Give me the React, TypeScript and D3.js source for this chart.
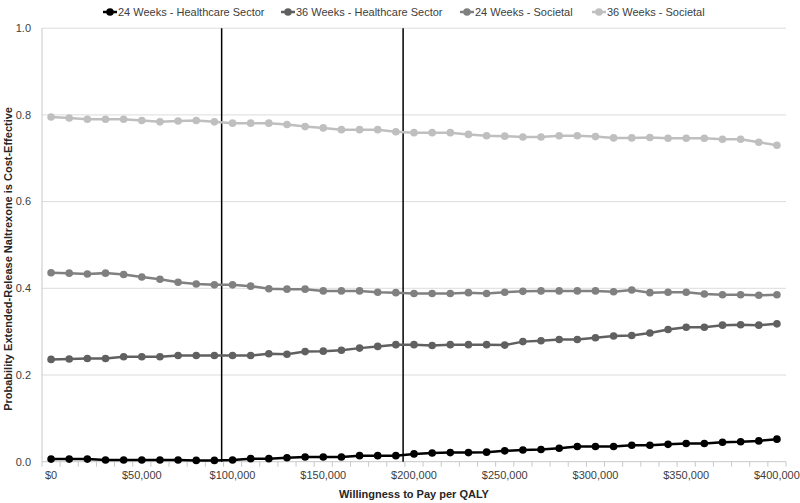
import React, { useEffect, useRef } from "react";
import * as d3 from "d3";

const wtp = [
  0, 10000, 20000, 30000, 40000, 50000, 60000, 70000, 80000, 90000, 100000,
  110000, 120000, 130000, 140000, 150000, 160000, 170000, 180000, 190000, 200000,
  210000, 220000, 230000, 240000, 250000, 260000, 270000, 280000, 290000, 300000,
  310000, 320000, 330000, 340000, 350000, 360000, 370000, 380000, 390000, 400000,
];

const hc24 = [
  0.006, 0.006, 0.006, 0.004, 0.004, 0.004, 0.004, 0.004, 0.003, 0.003, 0.004,
  0.007, 0.007, 0.009, 0.011, 0.011, 0.011, 0.014, 0.014, 0.014, 0.018,
  0.02, 0.021, 0.021, 0.022, 0.025, 0.027, 0.028, 0.031, 0.035, 0.035,
  0.035, 0.038, 0.038, 0.04, 0.042, 0.042, 0.045, 0.046, 0.048, 0.052,
];

const hc36 = [
  0.236, 0.237, 0.238, 0.238, 0.242, 0.242, 0.242, 0.245, 0.245, 0.245, 0.245,
  0.245, 0.249, 0.248, 0.254, 0.255, 0.257, 0.262, 0.266, 0.27, 0.27,
  0.268, 0.27, 0.27, 0.27, 0.269, 0.277, 0.279, 0.282, 0.282, 0.286,
  0.29, 0.291, 0.297, 0.305, 0.31, 0.31, 0.315, 0.316, 0.315, 0.318,
];

const soc24 = [
  0.436, 0.435, 0.433, 0.435, 0.432, 0.426, 0.421, 0.414, 0.41, 0.408, 0.408,
  0.405, 0.399, 0.398, 0.398, 0.394, 0.394, 0.394, 0.391, 0.39, 0.388,
  0.388, 0.388, 0.39, 0.388, 0.391, 0.393, 0.394, 0.394, 0.394, 0.394,
  0.392, 0.396, 0.39, 0.391, 0.391, 0.387, 0.385, 0.385, 0.384, 0.385,
];

const soc36 = [
  0.795, 0.793, 0.79, 0.79, 0.79, 0.787, 0.784, 0.786, 0.787, 0.784, 0.781,
  0.781, 0.781, 0.778, 0.773, 0.77, 0.766, 0.766, 0.766, 0.761, 0.759,
  0.759, 0.759, 0.755, 0.752, 0.751, 0.749, 0.749, 0.752, 0.752, 0.75,
  0.747, 0.747, 0.748, 0.746, 0.746, 0.746, 0.744, 0.744, 0.737, 0.73,
];

const seriesNames = [
  "24 Weeks - Healthcare Sector",
  "36 Weeks - Healthcare Sector",
  "24 Weeks - Societal",
  "36 Weeks - Societal",
];
const seriesColors = ["#000000", "#606060", "#808080", "#bfbfbf"];
const yTicks = [0, 0.2, 0.4, 0.6, 0.8, 1.0];
const xLabelValues = [0, 50000, 100000, 150000, 200000, 250000, 300000, 350000, 400000];
// thresholds marked by the two vertical lines
const thresholds = [94000, 194000];

const W = 800;
const H = 503;
const FONT = "'Liberation Sans', Arial, sans-serif";

export default function App() {
  const ref = useRef<SVGSVGElement>(null);

  useEffect(() => {
    document.body.style.margin = "0";
    const svg = d3.select(ref.current);
    svg.selectAll("*").remove();

    const left = 42, right = 786, top = 28.2, bottom = 461.7;

    const x = d3.scaleLinear().domain([-5000, 405000]).range([left, right]);
    const y = d3.scaleLinear().domain([0, 1]).range([bottom, top]);

    // gridlines
    svg.append("g")
      .selectAll("line")
      .data(yTicks.filter((d) => d > 0))
      .join("line")
      .attr("x1", left)
      .attr("x2", right)
      .attr("y1", (d) => y(d))
      .attr("y2", (d) => y(d))
      .attr("stroke", "#dcdcdc")
      .attr("stroke-width", 1);

    // y axis line
    svg.append("line")
      .attr("x1", left).attr("x2", left)
      .attr("y1", top).attr("y2", bottom)
      .attr("stroke", "#c8c8c8");

    // x axis line + ticks between categories
    svg.append("line")
      .attr("x1", left).attr("x2", right)
      .attr("y1", bottom).attr("y2", bottom)
      .attr("stroke", "#c8c8c8");
    const tickPos = wtp.map((d) => d - 5000).concat([405000]);
    svg.append("g")
      .selectAll("line")
      .data(tickPos)
      .join("line")
      .attr("x1", (d) => x(d))
      .attr("x2", (d) => x(d))
      .attr("y1", bottom)
      .attr("y2", bottom + 5)
      .attr("stroke", "#c8c8c8");

    // y labels
    svg.append("g")
      .selectAll("text")
      .data(yTicks)
      .join("text")
      .attr("x", 31)
      .attr("y", (d) => y(d))
      .attr("dy", "0.35em")
      .attr("text-anchor", "end")
      .attr("font-family", FONT)
      .attr("font-size", 11)
      .attr("fill", "#404040")
      .text((d) => d3.format(".1f")(d));

    // x labels
    svg.append("g")
      .selectAll("text")
      .data(xLabelValues)
      .join("text")
      .attr("x", (d) => x(d))
      .attr("y", 475)
      .attr("dy", "0.35em")
      .attr("text-anchor", "middle")
      .attr("font-family", FONT)
      .attr("font-size", 11)
      .attr("fill", "#404040")
      .text((d) => "$" + d3.format(",")(d));

    // axis titles
    svg.append("text")
      .attr("x", (left + right) / 2)
      .attr("y", 494)
      .attr("dy", "0.35em")
      .attr("text-anchor", "middle")
      .attr("font-family", FONT)
      .attr("font-size", 11)
      .attr("font-weight", "bold")
      .attr("fill", "#262626")
      .text("Willingness to Pay per QALY");

    svg.append("text")
      .attr("transform", `translate(8,${(top + bottom) / 2 + 14}) rotate(-90)`)
      .attr("dy", "0.35em")
      .attr("text-anchor", "middle")
      .attr("font-family", FONT)
      .attr("font-size", 11)
      .attr("font-weight", "bold")
      .attr("fill", "#262626")
      .text("Probability Extended-Release Naltrexone is Cost-Effective");

    // vertical threshold lines
    svg.append("g")
      .selectAll("line")
      .data(thresholds)
      .join("line")
      .attr("x1", (d) => x(d))
      .attr("x2", (d) => x(d))
      .attr("y1", top)
      .attr("y2", bottom)
      .attr("stroke", "#000")
      .attr("stroke-width", 1.5);

    // series
    const allSeries = [hc24, hc36, soc24, soc36];
    const line = d3.line<number>()
      .x((_, i) => x(wtp[i]))
      .y((d) => y(d));

    // draw back-to-front so black lies on top
    [3, 2, 1, 0].forEach((s) => {
      const g = svg.append("g");
      g.append("path")
        .attr("d", line(allSeries[s]))
        .attr("fill", "none")
        .attr("stroke", seriesColors[s])
        .attr("stroke-width", 2.5);
      g.selectAll("circle")
        .data(allSeries[s])
        .join("circle")
        .attr("cx", (_, i) => x(wtp[i]))
        .attr("cy", (d) => y(d))
        .attr("r", 3.8)
        .attr("fill", seriesColors[s]);
    });

    // legend
    const legendX = [103, 281, 460, 592];
    const lg = svg.append("g");
    seriesNames.forEach((name, i) => {
      const item = lg.append("g").attr("transform", `translate(${legendX[i]},12)`);
      item.append("line")
        .attr("x1", 0).attr("x2", 14)
        .attr("stroke", seriesColors[i])
        .attr("stroke-width", 2.5);
      item.append("circle")
        .attr("cx", 7).attr("r", 3.8)
        .attr("fill", seriesColors[i]);
      item.append("text")
        .attr("x", 15)
        .attr("dy", "0.35em")
        .attr("font-family", FONT)
        .attr("font-size", 11)
        .attr("fill", "#404040")
        .text(name);
    });
  }, []);

  return <svg ref={ref} width={W} height={H} style={{ display: "block", background: "#fff" }} />;
}
